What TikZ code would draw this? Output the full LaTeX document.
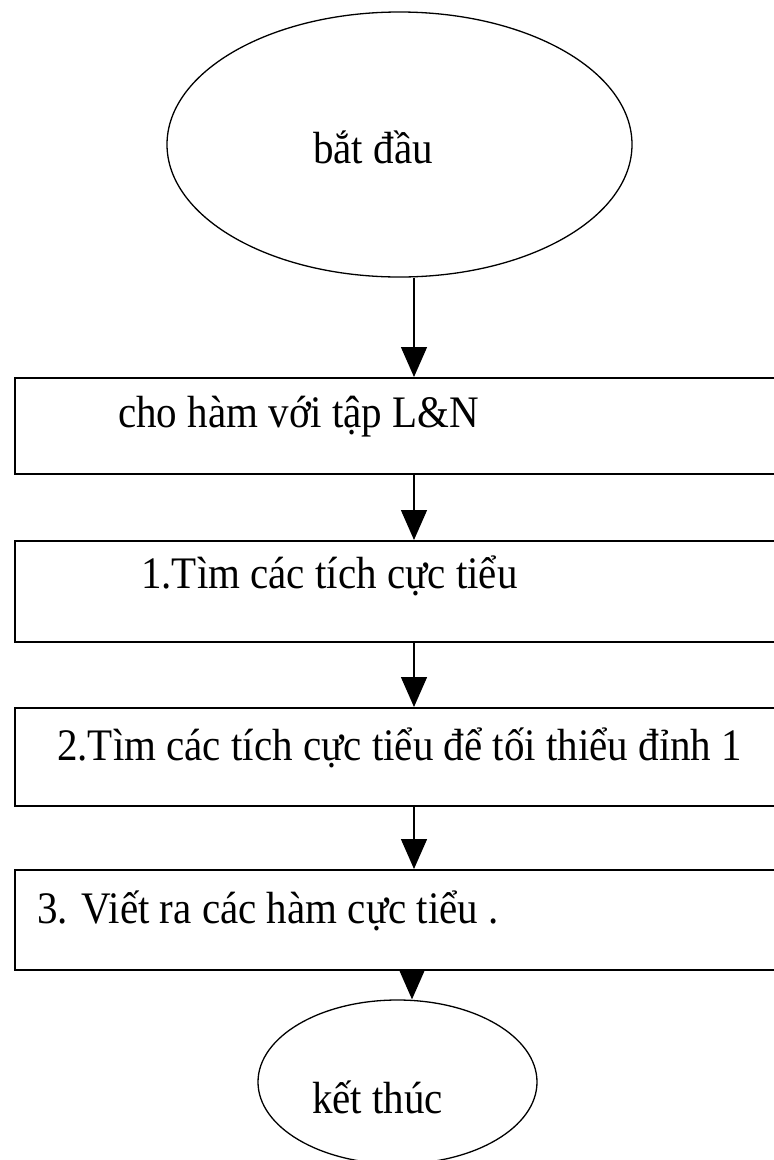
\documentclass[tikz,border=0pt]{standalone}
\usepackage{fontspec}
\usepackage{graphicx}
\setmainfont{Liberation Serif}
\usetikzlibrary{shapes.geometric,arrows.meta}
\newcommand{\tallt}[1]{\scalebox{1}[1.1]{#1}}
\begin{document}
\begin{tikzpicture}[x=1pt,y=-1pt,
  oval/.style={ellipse,draw,line width=1.3pt,inner sep=0pt},
  stepbox/.style={draw,line width=2pt,rectangle,inner sep=0pt,minimum width=800pt,anchor=north west},
  lbl/.style={anchor=base west,inner sep=0pt,font=\fontsize{41}{49}\selectfont},
  arr/.style={line width=1.4pt,-{Triangle[width=26pt,length=30pt]}}]
\useasboundingbox (0,0) rectangle (774,1160);
\clip (0,0) rectangle (774,1160);
\node[oval,minimum width=465pt,minimum height=265pt] (start) at (399.5,144.5) {};
\node[lbl] (tstart) at (313,163) {\tallt{bắt đầu}};
\node[stepbox,minimum height=96pt] (b1) at (14,377) {};
\node[lbl] (t1) at (118,427) {\tallt{cho hàm với tập L\&N}};
\node[stepbox,minimum height=101pt] (b2) at (14,540) {};
\node[lbl] (t2) at (141,588) {\tallt{1.Tìm các tích cực tiểu}};
\node[stepbox,minimum height=98pt] (b3) at (14,707) {};
\node[lbl] (t3) at (57,760) {\tallt{2.Tìm các tích cực tiểu để tối thiểu đỉnh 1}};
\node[stepbox,minimum height=100pt] (b4) at (14,869) {};
\node[lbl] (t4) at (37,923) {\tallt{3. Viết ra các hàm cực tiểu .}};
\node[oval,minimum width=279pt,minimum height=164pt] (end) at (397.5,1082) {};
\node[lbl] (tend) at (312,1113) {\tallt{kết thúc}};
\coordinate (ax) at (414,0);
\coordinate (ax2) at (412,0);
\draw[arr] (start.south -| ax) -- (b1.north -| ax);
\draw[arr] (b1.south -| ax) -- (b2.north -| ax);
\draw[arr] (b2.south -| ax) -- (b3.north -| ax);
\draw[arr] (b3.south -| ax) -- (b4.north -| ax);
\draw[arr] (b4.south -| ax2) -- (end.north -| ax2);
\end{tikzpicture}
\end{document}
